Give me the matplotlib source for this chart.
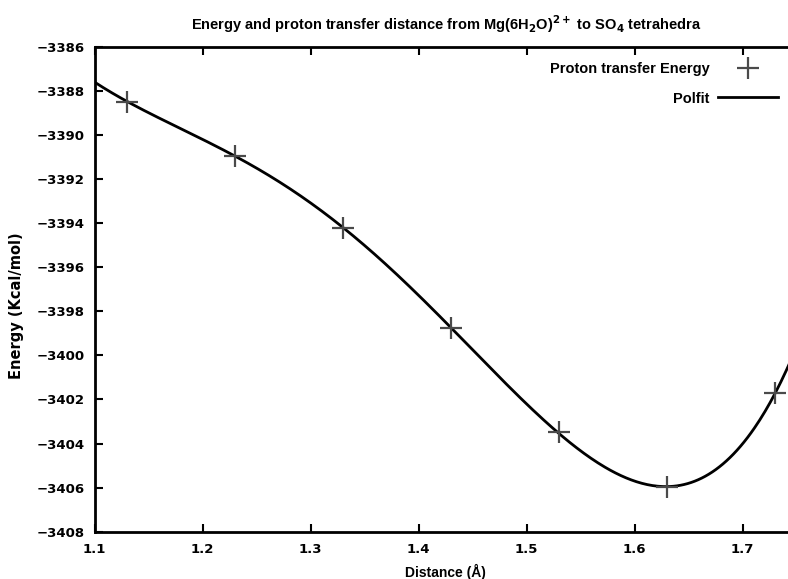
import numpy as np
import matplotlib
matplotlib.use("Agg")
import matplotlib.pyplot as plt

plt.rcParams['font.family'] = ['Liberation Sans', 'DejaVu Sans']
plt.rcParams['font.weight'] = 'bold'
plt.rcParams['mathtext.default'] = 'bf'

distance = [1.13, 1.23, 1.33, 1.43, 1.53, 1.63, 1.73]
energy = [-3388.49, -3390.94, -3394.23, -3398.77, -3403.50, -3405.99, -3401.71]
fit_degree = 4
y_ticks = [-3386, -3388, -3390, -3392, -3394, -3396, -3398, -3400, -3402, -3404, -3406, -3408]
x_ticks = [1.1, 1.2, 1.3, 1.4, 1.5, 1.6, 1.7]

fig = plt.figure(figsize=(7.88, 5.79), dpi=100)
ax = fig.add_axes([0.1202, 0.0817, 0.8909, 0.8376])

coef = np.polyfit(distance, energy, fit_degree)
xs = np.linspace(1.1, 1.75, 400)
ax.plot(xs, np.polyval(coef, xs), color='black', lw=2, label='Polfit', zorder=2)
ax.plot(distance, energy, linestyle='none', marker='+', markersize=16, mew=1.6,
        color='#4a4a4a', label='Proton transfer Energy', zorder=3)

ax.set_xlim(1.1, 1.75)
ax.set_ylim(-3408, -3386)
ax.set_xticks(x_ticks)
ax.set_xticklabels([f"{v:.1f}" for v in x_ticks], family='DejaVu Sans', weight='bold', fontsize=9.5)
ax.set_yticks(y_ticks)
ax.set_yticklabels([str(v).replace('-', '\u2212') for v in y_ticks], family='DejaVu Sans',
                   weight='bold', fontsize=9.5)
ax.tick_params(axis='both', direction='in', length=6, width=1.5, top=True, right=False)
ax.tick_params(axis='y', pad=7)
ax.tick_params(axis='x', pad=8)
for s in ax.spines.values():
    s.set_linewidth(2)
ax.spines['right'].set_visible(False)

ax.set_title(r"Energy and proton transfer distance from Mg(6H$_2$O)$^{2+}$ to SO$_4$ tetrahedra",
             fontsize=10.5, pad=12, fontweight='bold')
ax.set_xlabel("Distance (Å)", fontsize=10, fontweight='bold')
ax.xaxis.set_label_coords(0.5, -0.066)
ax.set_ylabel("Energy (Kcal/mol)", fontsize=10.5, fontweight='bold', family='DejaVu Sans')
ax.yaxis.set_label_coords(-0.101, 0.467)

h, l = ax.get_legend_handles_labels()
ax.legend(h[::-1], l[::-1], loc='upper right', bbox_to_anchor=(0.973, 0.968), frameon=False,
          markerfirst=False, prop={'size': 10.5, 'weight': 'bold'}, handlelength=4.1,
          handletextpad=0.6, borderaxespad=0, borderpad=0, labelspacing=1.05)

fig.savefig("out.png", dpi=100)
